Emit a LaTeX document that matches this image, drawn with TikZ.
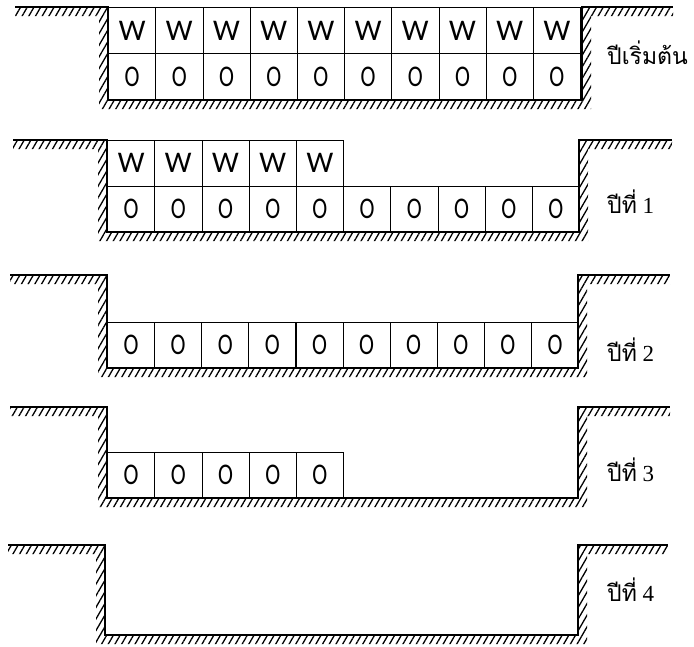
\documentclass[tikz,border=0pt]{standalone}
\usepackage{fontspec}
\setmainfont{Liberation Serif}
\newfontfamily\thaifont[Script=Thai]{Loma}
\newfontfamily\cellfont{Carlito}
\usetikzlibrary{patterns.meta}

\tikzset{
	cell/.style={draw,line width=0.8pt,minimum width=47.2pt,minimum height=46pt,inner sep=0pt,
		font=\cellfont\fontsize{30}{30}\selectfont},
	earth/.style={pattern={Lines[angle=60,distance=5.8pt,line width=1.3pt]}},
	rim/.style={line width=1.4pt},
	yearlabel/.style={anchor=west,inner sep=0pt,font=\fontsize{23}{25}\selectfont}
}
\newcommand{\ore}{\scalebox{0.75}[1]{O}}

% pit: #1 ground, #2 left end, #3 left wall, #4 right wall, #5 right end, #6 bottom
\newcommand{\pit}[6]{
	\fill[earth] (#2,#1) -- (#3,#1) -- (#3,#6) -- (#4,#6) -- (#4,#1) -- (#5,#1)
		-- (#5,{#1+9}) -- ({#4+9},{#1+9}) -- ({#4+9},{#6+9}) -- ({#3-9},{#6+9})
		-- ({#3-9},{#1+9}) -- (#2,{#1+9}) -- cycle;
	\draw[rim] (#2,#1) -- (#3,#1) -- (#3,#6) -- (#4,#6) -- (#4,#1) -- (#5,#1);
}

\begin{document}
\begin{tikzpicture}[x=1pt,y=-1pt]
	\useasboundingbox (0,0) rectangle (694,646);

	% start
	\pit{7}{15}{108}{582}{673}{100}
	\foreach \i in {1,...,10}{
		\node[cell] (s-w\i) at ({108.5+47.2*(\i-0.5)},30.5) {W};
		\node[cell] (s-o\i) at ({108.5+47.2*(\i-0.5)},76.5) {\ore};
	}
	\node[yearlabel] (lbl0) at (607,53) {\thaifont ปีเริ่มต้น};

	% year 1
	\pit{140}{13}{107}{579}{672}{232}
	\foreach \i in {1,...,5}
		\node[cell] (y1-w\i) at ({107.5+47.2*(\i-0.5)},163) {W};
	\foreach \i in {1,...,10}
		\node[cell] (y1-o\i) at ({107.5+47.2*(\i-0.5)},209) {\ore};
	\node[yearlabel] (lbl1) at (607,202) {{\thaifont ปีที่} 1};

	% year 2
	\pit{275}{10}{107}{578}{670}{368}
	\foreach \i in {1,...,10}
		\node[cell] (y2-o\i) at ({107.5+47.1*(\i-0.5)},345) {\ore};
	\node[yearlabel] (lbl2) at (607,350) {{\thaifont ปีที่} 2};

	% year 3
	\pit{407}{10}{107}{578}{670}{498}
	\foreach \i in {1,...,5}
		\node[cell] (y3-o\i) at ({107.5+47.2*(\i-0.5)},475) {\ore};
	\node[yearlabel] (lbl3) at (607,470) {{\thaifont ปีที่} 3};

	% year 4
	\pit{545}{8}{105}{578}{668}{635}
	\node[yearlabel] (lbl4) at (607,590) {{\thaifont ปีที่} 4};
\end{tikzpicture}
\end{document}
